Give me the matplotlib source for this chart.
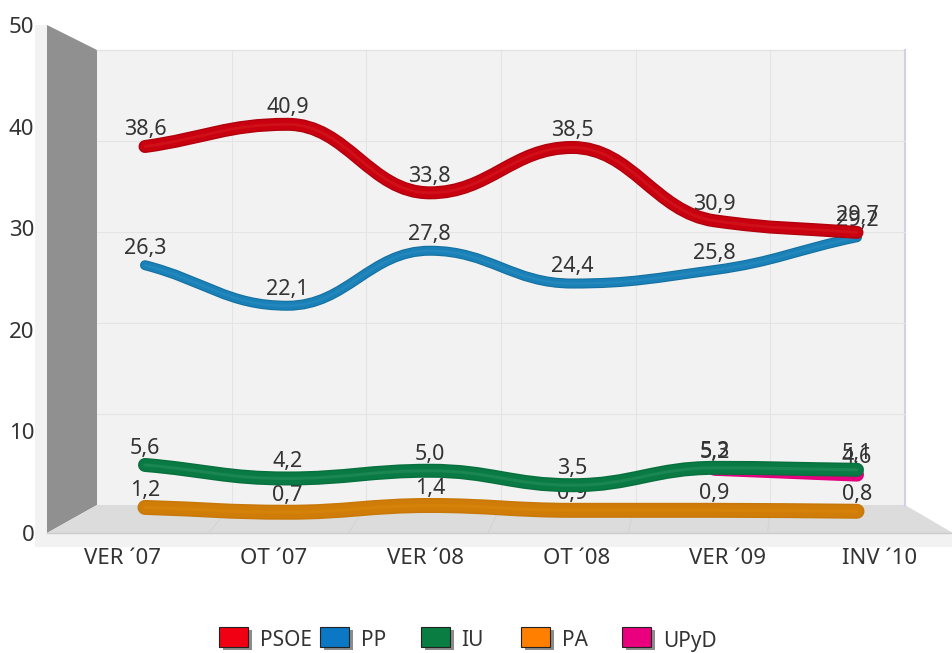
import matplotlib
matplotlib.use("Agg")
import matplotlib.pyplot as plt
from matplotlib.path import Path
from matplotlib.patches import PathPatch, Polygon, Rectangle
from matplotlib.transforms import Affine2D

# === DATA =====================================================================
periods = ["VER ´07", "OT ´07", "VER ´08", "OT ´08", "VER ´09", "INV ´10"]
psoe = [38.6, 40.9, 33.8, 38.5, 30.9, 29.7]
pp = [26.3, 22.1, 27.8, 24.4, 25.8, 29.2]
iu = [5.6, 4.2, 5.0, 3.5, 5.3, 5.1]
pa = [1.2, 0.7, 1.4, 0.9, 0.9, 0.8]
upyd = [None, None, None, None, 5.2, 4.6]
y_ticks = [0, 10, 20, 30, 40, 50]

names = ["PSOE", "PP", "IU", "PA", "UPyD"]
swatch = ["#f00012", "#0a78c4", "#0a7d42", "#ff8000", "#ea007f"]

W, H = 953, 653
TEXT = "#333333"
FONT = "Noto Sans"


# horizontal tangent at turning points, otherwise slope between neighbours
def slopes(xs, ys):
    out = []
    for i in range(len(ys)):
        if i == 0:
            out.append((ys[1] - ys[0]) * 0.9)
        elif i == len(ys) - 1:
            out.append((ys[i] - ys[i - 1]) * 0.9)
        elif (ys[i] - ys[i - 1]) * (ys[i + 1] - ys[i]) <= 0:
            out.append(0.0)
        else:
            a = ys[i] - ys[i - 1]
            b = ys[i + 1] - ys[i]
            out.append(2 * a * b / (a + b))
    return out


def curve(xs, ys):
    m = slopes(xs, ys)
    verts = [(xs[0], ys[0])]
    codes = [Path.MOVETO]
    for i in range(len(ys) - 1):
        d = (xs[i + 1] - xs[i]) * 0.42
        verts += [(xs[i] + d, ys[i] + m[i] * d), (xs[i + 1] - d, ys[i + 1] - m[i + 1] * d), (xs[i + 1], ys[i + 1])]
        codes += [Path.CURVE4] * 3
    return Path(verts, codes)


fig = plt.figure(figsize=(W / 100, H / 100), dpi=100, facecolor="white")

# pixel coordinates for the fake 3d box
px = Affine2D().scale(1 / W, -1 / H).translate(0, 1) + fig.transFigure

# === 3D BOX ===================================================================
bg = fig.add_axes([0, 0, 1, 1], zorder=0)
bg.set_axis_off()
bg.add_patch(Rectangle((35, 25), 12, 522, transform=px, fc="#f2f2f2", ec="none"))
bg.add_patch(Rectangle((35, 533), 918, 14, transform=px, fc="#f2f2f2", ec="none"))
bg.add_patch(Rectangle((97, 50), 808, 455, transform=px, fc="#f2f2f2", ec="none"))
bg.add_patch(Polygon([(47, 25), (97, 50), (97, 505), (47, 533)], transform=px, fc="#909090", ec="none"))
bg.add_patch(Polygon([(47, 533), (97, 505), (905, 505), (953, 533)], transform=px, fc="#dcdcdc", ec="none"))
bg.plot([97, 905], [50, 50], transform=px, color="#e4e4e4", lw=1)
bg.plot([905, 905], [50, 505], transform=px, color="#d0d0e8", lw=1.5)
bg.plot([47, 953], [533, 533], transform=px, color="#cccccc", lw=1)
for k in range(1, 5):
    gy = 505 - 91 * k
    bg.plot([97, 905], [gy, gy], transform=px, color="#e4e4e4", lw=0.8)
for k in range(1, 6):
    gx = 97 + 134.7 * k
    bg.plot([gx, gx], [50, 505], transform=px, color="#e4e4e4", lw=0.8)
    bg.plot([gx, gx - 28 + 5 * k], [505, 533], transform=px, color="#d4d4d4", lw=0.8)
bg.set_xlim(0, 1)
bg.set_ylim(0, 1)

# === FRONT AXIS (TICK LABELS) =================================================
front = fig.add_axes([47 / W, 1 - 533 / H, 908 / W, 508 / H], zorder=1)
front.patch.set_alpha(0)
front.set_xlim(-0.5, 5.5)
front.set_ylim(0, 50)
front.set_xticks(range(len(periods)))
front.set_xticklabels(periods, fontsize=16, color=TEXT, family=FONT)
front.set_yticks(y_ticks)
front.set_yticklabels(y_ticks, fontsize=16, color=TEXT, family=FONT)
front.tick_params(length=0, axis="x", pad=11)
front.tick_params(length=0, axis="y", pad=9)
for s in front.spines.values():
    s.set_visible(False)

# === SERIES ===================================================================
# series run on a plane half way between the back wall and the front
ax = fig.add_axes([0, 0, 1, 1], zorder=2)
ax.patch.set_alpha(0)
ax.set_axis_off()
ax.set_xlim((0 - 145) / 142.4, (W - 145) / 142.4)
ax.set_ylim((519 - H) / 9.65, 519 / 9.65)


def draw_series(values, dark, main, light, width, z):
    pts = [(i, v) for i, v in enumerate(values) if v is not None]
    xs = [p[0] for p in pts]
    ys = [p[1] for p in pts]
    path = curve(xs, ys)
    for color, w in [(dark, width), (main, width * 0.8), (light, width * 0.22)]:
        ax.add_patch(PathPatch(path, fc="none", ec=color, lw=w * 0.72, capstyle="round", joinstyle="round", zorder=z))
    for x, y in pts:
        ax.annotate(f"{y:.1f}".replace(".", ","), (x, y), xytext=(0, 12), textcoords="offset points",
                    ha="center", va="center", fontsize=15.5, color=TEXT, family=FONT, zorder=3)


draw_series(upyd, "#e0007a", "#e6007f", "#e6007f", 14, 4)
draw_series(pa, "#c87808", "#d07c08", "#d58208", 15, 5)
draw_series(iu, "#08703e", "#0a7a44", "#1a8652", 14, 6)
draw_series(pp, "#146e9c", "#1a80b8", "#2488bc", 10, 7)
draw_series(psoe, "#b0000c", "#c80010", "#d01018", 13, 8)

# === LEGEND ===================================================================
for i, (name, color) in enumerate(zip(names, swatch)):
    lx = 219 + 100.8 * i
    ax.add_patch(Rectangle((lx + 4, 630), 29, 20, transform=px, fc="#8c8c8c", ec="none", zorder=9))
    ax.add_patch(Rectangle((lx, 627), 29, 20, transform=px, fc=color, ec="#222222", lw=0.8, zorder=10))
    ax.text(lx + 41, 641, name, transform=px, ha="left", va="center", fontsize=15, color=TEXT, family=FONT)

fig.savefig("out.png", dpi=100)
